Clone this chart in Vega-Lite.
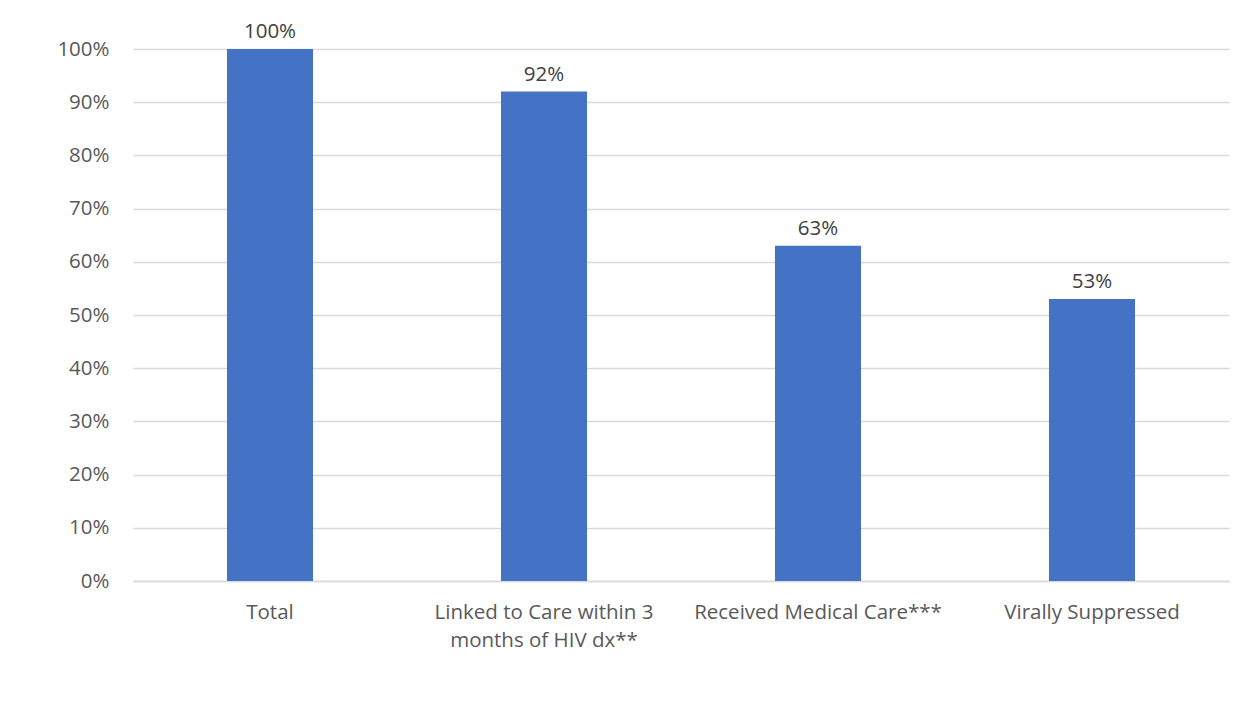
{
  "$schema": "https://vega.github.io/schema/vega-lite/v6.json",
  "width": 1096,
  "height": 532,
  "autosize": {"type": "none"},
  "padding": {"left": 133, "top": 49, "right": 27, "bottom": 143},
  "background": "white",
  "config": {
    "view": {"stroke": null},
    "font": "Open Sans",
    "text": {"font": "Open Sans"}
  },
  "data": {
    "values": [
      {"stage": "Total", "pct": 1.0},
      {"stage": "Linked to Care within 3 months of HIV dx**", "pct": 0.92},
      {"stage": "Received Medical Care***", "pct": 0.63},
      {"stage": "Virally Suppressed", "pct": 0.53}
    ]
  },
  "encoding": {
    "x": {
      "field": "stage",
      "type": "nominal",
      "sort": null,
      "scale": {"paddingInner": 0.686, "paddingOuter": 0.343},
      "axis": {
        "title": null,
        "labelAngle": 0,
        "ticks": false,
        "domainColor": "#d9d9d9",
        "domainWidth": 1.5,
        "labelColor": "#595959",
        "labelFont": "Open Sans",
        "labelFontSize": 20.5,
        "labelPadding": 31,
        "labelBaseline": "middle",
        "labelLineHeight": 28,
        "labelLimit": 0,
        "labelExpr": "datum.label == 'Linked to Care within 3 months of HIV dx**' ? ['Linked to Care within 3', 'months of HIV dx**'] : datum.label"
      }
    },
    "y": {
      "field": "pct",
      "type": "quantitative",
      "scale": {"domain": [0, 1]},
      "axis": {
        "title": null,
        "values": [0, 0.1, 0.2, 0.3, 0.4, 0.5, 0.6, 0.7, 0.8, 0.9, 1.0],
        "format": ".0%",
        "domain": false,
        "ticks": false,
        "gridColor": "#d9d9d9",
        "gridWidth": 1.5,
        "labelColor": "#595959",
        "labelFont": "Open Sans",
        "labelFontSize": 20.5,
        "labelPadding": 24
      }
    }
  },
  "layer": [
    {"mark": {"type": "bar", "color": "#4472C4"}},
    {
      "mark": {"type": "text", "baseline": "middle", "dy": -17, "fontSize": 20.5, "color": "#404040", "font": "Open Sans"},
      "encoding": {"text": {"field": "pct", "type": "quantitative", "format": ".0%"}}
    }
  ]
}
